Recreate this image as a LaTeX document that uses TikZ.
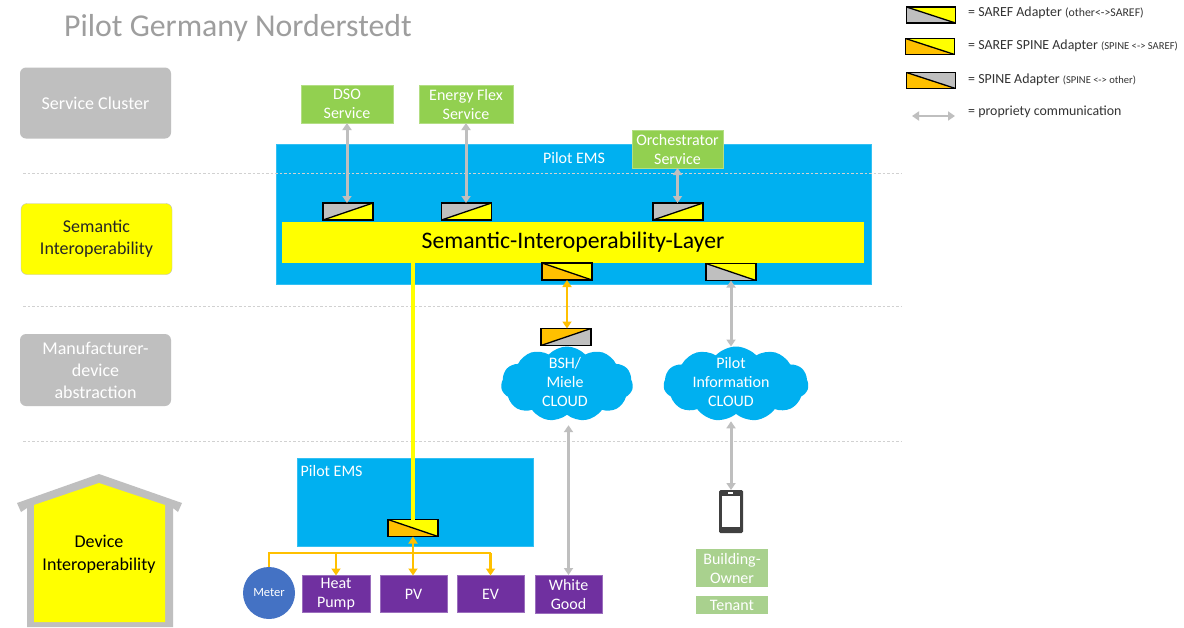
\documentclass[tikz,border=0pt]{standalone}
\usepackage{fontspec}
\setmainfont{Carlito}
\usetikzlibrary{arrows.meta,shapes.symbols}
\definecolor{cblue}{HTML}{00B0F0}
\definecolor{cyel}{HTML}{FFFF00}
\definecolor{corg}{HTML}{FFC000}
\definecolor{cgray}{HTML}{BFBFBF}
\definecolor{cgreen}{HTML}{92D050}
\definecolor{clgreen}{HTML}{A9D18E}
\definecolor{cpurp}{HTML}{7030A0}
\definecolor{cmeter}{HTML}{4472C4}
\newcommand{\fs}[1]{\fontsize{#1}{#1}\selectfont}
\tikzset{
  bbx/.style={inner sep=0pt,outer sep=0pt,align=center,text=white},
  svc/.style={bbx,fill=cgreen,draw=cgreen!70!white,line width=.6pt,font=\fontsize{16}{19}\selectfont},
  own/.style={bbx,fill=clgreen,font=\fontsize{16}{19}\selectfont},
  dev/.style={bbx,fill=cpurp,draw=cpurp!70!white,line width=.6pt,font=\fontsize{16}{19}\selectfont},
  layerbox/.style={bbx,rounded corners=6pt,font=\fontsize{18}{22}\selectfont,minimum width=151,minimum height=71},
  emsbox/.style={inner sep=0pt,outer sep=0pt,fill=cblue,draw=cblue!80!white,line width=.5pt},
  lbl/.style={inner sep=0pt,text=white,font=\fontsize{16}{19}\selectfont,align=center},
  adown/.style 2 args={draw=black,line width=1.3pt,minimum width=50,minimum height=17,inner sep=0pt,outer sep=0pt,
    path picture={
      \fill[#1] (path picture bounding box.south west)--(path picture bounding box.north west)--(path picture bounding box.south east)--cycle;
      \fill[#2] (path picture bounding box.north west)--(path picture bounding box.north east)--(path picture bounding box.south east)--cycle;
      \draw[black,line width=1.3pt] (path picture bounding box.north west)--(path picture bounding box.south east);}},
  aup/.style 2 args={draw=black,line width=1.3pt,minimum width=50,minimum height=17,inner sep=0pt,outer sep=0pt,
    path picture={
      \fill[#1] (path picture bounding box.south west)--(path picture bounding box.north west)--(path picture bounding box.north east)--cycle;
      \fill[#2] (path picture bounding box.south west)--(path picture bounding box.south east)--(path picture bounding box.north east)--cycle;
      \draw[black,line width=1.3pt] (path picture bounding box.south west)--(path picture bounding box.north east);}},
  grayarr/.style={draw=cgray,line width=3pt,{Triangle[width=9pt,length=7pt]}-{Triangle[width=9pt,length=7pt]}},
  orgarr/.style={draw=corg,line width=2.6pt,{Triangle[width=9pt,length=7pt]}-{Triangle[width=9pt,length=7pt]}},
  orgone/.style={draw=corg,line width=2.6pt,-{Triangle[width=9pt,length=7pt]}},
  orgline/.style={draw=corg,line width=2.6pt},
  sep/.style={draw=black!18,line width=.8pt,dash pattern=on 2.5pt off 2pt},
  cloudn/.style={cloud,cloud puffs=11,cloud puff arc=95,aspect=1.9,fill=cblue,draw=none,inner sep=0pt,outer sep=0pt},
  legend/.style={inner sep=0pt,anchor=west,text=black!80,font=\fs{13.9}},
}
\begin{document}
\begin{tikzpicture}[x=1pt,y=-1pt]
\useasboundingbox (0,0) rectangle (1184,627);
\fill[white] (0,0) rectangle (1184,627);

\node[inner sep=0pt,anchor=west,text=black!38,font=\fs{31.8}] (title) at (64,28) {Pilot Germany Norderstedt};

% layer labels
\node[layerbox,fill=cgray] (lsc) at (95.5,103) {Service Cluster};
\node[layerbox,fill=cyel,draw=black!25,text=black!85,minimum height=71] (lsi) at (96.5,239) {Semantic\\Interoperability};
\node[layerbox,fill=cgray,minimum height=72] (lmd) at (95.5,370) {Manufacturer-\\device\\abstraction};

% house
\fill[cgray] (99,474) -- (182,503) -- (178,512) -- (173,508) -- (173,627) -- (27,627) -- (27,508) -- (21,512) -- (17,503) -- cycle;
\fill[cyel] (99,483) -- (165,505) -- (165,622) -- (34,622) -- (34,505) -- cycle;
\node[inner sep=0pt,align=center,text=black,font=\fontsize{18}{23}\selectfont] (ldi) at (99,554) {Device\\Interoperability};

% EMS boxes
\node[emsbox,minimum width=595,minimum height=140] (ems) at (573.5,214) {};
\node[lbl] (emstxt) at (574,158) {Pilot EMS};
\node[emsbox,minimum width=236,minimum height=88] (emslow) at (415,502) {};
\node[lbl,anchor=west] (emslowtxt) at (300.5,471) {Pilot EMS};

% separators
\coordinate (s1a) at (23,173); \coordinate (s1b) at (901,173);
\coordinate (s2a) at (23,306); \coordinate (s2b) at (901,306);
\coordinate (s3a) at (23,441); \coordinate (s3b) at (901,441);
\draw[sep] (s1a) -- (s1b);
\draw[sep] (s2a) -- (s2b);
\draw[sep] (s3a) -- (s3b);

% services
\node[svc,minimum width=92,minimum height=38] (dso) at (347,104) {DSO\\Service};
\node[svc,minimum width=94,minimum height=38] (flex) at (466,104) {Energy Flex\\Service};
\node[svc,minimum width=91,minimum height=38] (orch) at (677.5,149) {Orchestrator\\Service};

% semantic layer
\node[inner sep=0pt,outer sep=0pt,fill=cyel,minimum width=582,minimum height=41,text=black,font=\fs{23.7}] (sil) at (573,242.5) {\raisebox{-6pt}[12pt][12pt]{Semantic-Interoperability-Layer}};

% adapters
\node[aup={cgray}{cyel}] (a1) at (348,211.5) {};
\node[aup={cgray}{cyel}] (a2) at (466.5,211.5) {};
\node[aup={cgray}{cyel}] (a3) at (678,211.5) {};
\node[adown={corg}{cyel}] (a4) at (567,271.5) {};
\node[adown={cgray}{cyel}] (a5) at (731,272) {};
\node[aup={corg}{cgray}] (a6) at (566,337) {};
\node[adown={corg}{cyel}] (a7) at (413,528) {};

% clouds
\node[cloudn,minimum width=132,minimum height=75] (c1) at (567,384) {};
\node[lbl] (c1t) at (565,382) {BSH/\\Miele\\CLOUD};
\node[cloudn,minimum width=145,minimum height=75] (c2) at (736,384) {};
\node[lbl] (c2t) at (731,382) {Pilot\\Information\\CLOUD};

% devices
\node[circle,fill=cmeter,inner sep=0pt,outer sep=0pt,minimum size=52,text=white,font=\fs{12.5}] (meter) at (269,593) {Meter};
\node[dev,minimum width=68,minimum height=37] (heat) at (336,594) {Heat\\Pump};
\node[dev,minimum width=67,minimum height=37] (pv) at (413.5,594) {PV};
\node[dev,minimum width=67,minimum height=37] (ev) at (490.5,594) {EV};
\node[dev,minimum width=67,minimum height=38] (wg) at (568.5,594) {White\\Good};

% phone
\node[draw=none,fill=black!75,rounded corners=1.5pt,minimum width=24,minimum height=43,inner sep=0pt,outer sep=0pt] (phone) at (731,511.5) {};
\fill[white] (722,496) rectangle (740,527);
\fill[white] (728,492) rectangle (733,494);

\node[own,minimum width=72,minimum height=38] (bo) at (732,568) {Building-\\Owner};
\node[own,minimum width=72,minimum height=18] (ten) at (732,605) {Tenant};

% connectors
\draw[grayarr] (dso.south) -- (a1.north -| dso.south);
\draw[grayarr] (flex.south) -- (a2.north -| flex.south);
\draw[grayarr] (orch.south) -- (a3.north -| orch.south);
\draw[orgarr] (a4.south) -- (a6.north -| a4.south);
\draw[grayarr] (a5.south) -- (a5.south |- c2.north);
\draw[grayarr,shorten <=7.5pt] (c2.south -| phone.north) -- (phone.north);
\draw[grayarr,shorten <=10.5pt] (wg.north |- c1.south) -- (wg.north);
\draw[draw=cyel,line width=4.5pt] (sil.south -| a7.north) -- (a7.north);
\draw[orgarr] (a7.south) -- (pv.north -| a7.south);
\coordinate (j1) at (meter.north |- 0,553);
\coordinate (j2) at (heat.north |- 0,553);
\coordinate (j3) at (ev.north |- 0,553);
\draw[orgline] (meter.north) -- (j1) -- (j3);
\draw[orgone] (j2) -- (heat.north);
\draw[orgone] (j3) -- (ev.north);

% legend
\node[adown={cgray}{cyel},minimum width=49,minimum height=16] (k1) at (931,15) {};
\node[adown={corg}{cyel},minimum width=49,minimum height=16] (k2) at (930,46.5) {};
\node[adown={corg}{cgray},minimum width=49,minimum height=16] (k3) at (931,80.5) {};
\coordinate (k4a) at (912,116); \coordinate (k4b) at (955,116);
\draw[draw=cgray,line width=2.4pt,{Triangle[width=9pt,length=7pt]}-{Triangle[width=9pt,length=7pt]}] (k4a) -- (k4b);
\node[legend] (t1) at (968,13) {= SAREF Adapter {\fs{11.8}(other<->SAREF)}};
\node[legend] (t2) at (968,45.5) {= SAREF SPINE Adapter {\fs{10.6}(SPINE <-> SAREF)}};
\node[legend] (t3) at (968,80) {= SPINE Adapter {\fs{10.5}(SPINE <-> other)}};
\node[legend] (t4) at (968,111.5) {= propriety communication};
\end{tikzpicture}
\end{document}
